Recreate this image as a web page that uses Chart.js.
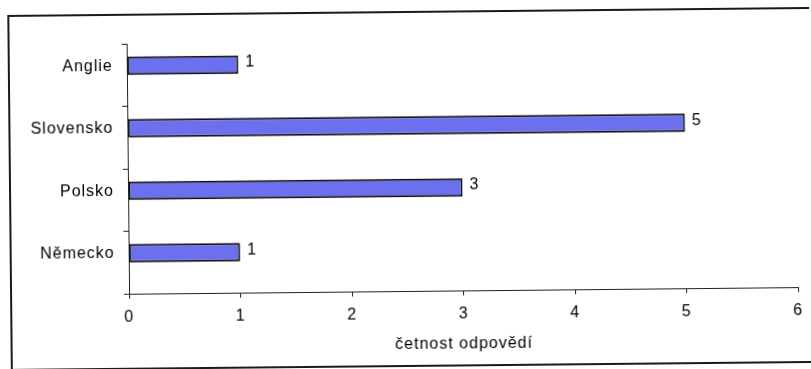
<!DOCTYPE html>
<html>
<head>
<meta charset="utf-8">
<script src="https://cdn.jsdelivr.net/npm/chart.js@4/dist/chart.umd.min.js"></script>
<style>
  html, body { margin: 0; padding: 0; background: #fff; overflow: hidden; }
  #wrap { width: 811px; height: 369px; transform: rotate(-0.57deg); transform-origin: 50% 50%; }
</style>
</head>
<body>
<div id="wrap"><canvas id="chart" width="811" height="369"></canvas></div>
<script>
// Countries and number of answers
const countries = ['Anglie', 'Slovensko', 'Polsko', 'Německo'];
const answers = [1, 5, 3, 1];
// second (empty) series slot, as in the original spreadsheet layout
const emptySlot = [null, null, null, null];
// value axis
const axisMin = 0;
const axisMax = 6;
const axisStep = 1;
const axisTitle = 'četnost odpovědí';

const FONT = { family: "'Liberation Sans', Arial, sans-serif", size: 16 };
const SPACING = '1px';

// wider letter spacing for all text (set again after every canvas reset)
const spacingPlugin = {
  id: 'spacing',
  beforeLayout(chart) { chart.ctx.letterSpacing = SPACING; },
  beforeDraw(chart) { chart.ctx.letterSpacing = SPACING; }
};

// frame around the whole chart
const framePlugin = {
  id: 'frame',
  beforeDraw(chart) {
    const ctx = chart.ctx;
    ctx.save();
    ctx.fillStyle = '#fff';
    ctx.fillRect(0, 0, chart.width, chart.height);
    ctx.strokeStyle = '#1a1a1a';
    ctx.lineWidth = 2;
    ctx.strokeRect(10, 12, chart.width + 10, 354);
    ctx.restore();
  }
};

// value printed to the right of each bar
const valueLabels = {
  id: 'valueLabels',
  afterDatasetsDraw(chart) {
    const ctx = chart.ctx;
    const meta = chart.getDatasetMeta(0);
    ctx.save();
    ctx.font = `${FONT.size}px ${FONT.family}`;
    ctx.fillStyle = '#000';
    ctx.textAlign = 'left';
    ctx.textBaseline = 'middle';
    meta.data.forEach((bar, i) => {
      ctx.fillText(String(answers[i]), bar.x + 7, bar.y - 2);
    });
    ctx.restore();
  }
};

const ctx = document.getElementById('chart').getContext('2d');

new Chart(ctx, {
  type: 'bar',
  data: {
    labels: countries,
    datasets: [
      {
        data: answers,
        backgroundColor: '#6c70ee',
        borderColor: '#111',
        borderWidth: 2,
        borderSkipped: false,
        barPercentage: 1,
        categoryPercentage: 0.59
      },
      {
        data: emptySlot,
        backgroundColor: '#6c70ee',
        barPercentage: 1,
        categoryPercentage: 0.59
      }
    ]
  },
  options: {
    indexAxis: 'y',
    responsive: false,
    animation: false,
    events: [],
    layout: { padding: { left: 10, right: 13, top: 41, bottom: 0 } },
    plugins: { legend: { display: false }, tooltip: { enabled: false } },
    scales: {
      x: {
        type: 'linear',
        min: axisMin,
        max: axisMax,
        ticks: { stepSize: axisStep, color: '#000', font: FONT, padding: 9 },
        grid: { drawOnChartArea: false, tickLength: 5, color: '#222' },
        border: { color: '#222', width: 1 },
        title: { display: true, text: axisTitle, color: '#000', font: FONT, padding: { top: 0, bottom: 15 } },
        afterFit(scale) { scale.height = 78; }
      },
      y: {
        type: 'category',
        offset: true,
        ticks: { color: '#000', font: FONT, padding: 9, labelOffset: -9 },
        grid: { offset: true, drawOnChartArea: false, tickLength: 5, color: '#222' },
        border: { color: '#222', width: 1 },
        afterFit(scale) { scale.width = 118; }
      }
    }
  },
  plugins: [spacingPlugin, framePlugin, valueLabels]
});
</script>
</body>
</html>
